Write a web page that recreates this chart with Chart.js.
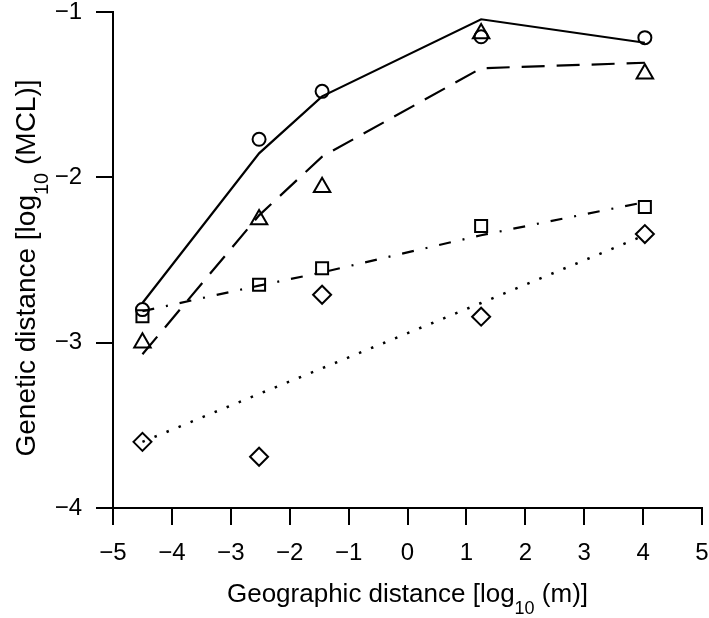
<!DOCTYPE html>
<html>
<head>
<meta charset="utf-8">
<script src="https://cdn.jsdelivr.net/npm/chart.js@4.4.1/dist/chart.umd.min.js"></script>
<style>
  html, body { margin: 0; padding: 0; background: #fff; }
  #wrap { width: 709px; height: 618px; }
</style>
</head>
<body>
<div id="wrap"><canvas id="chart" width="709" height="618"></canvas></div>
<script>
// geographic distance (log10 m) of the five sampling scales
const geoDistance = [-4.5, -2.52, -1.45, 1.25, 4.03];

// observed genetic distances (log10 MCL) and fitted lines, one pair per symbol
const circleObs = [-2.8, -1.77, -1.48, -1.15, -1.155];
const circleFit = [-2.76, -1.855, -1.51, -1.044, -1.186];
const triangleObs = [-3.0, -2.255, -2.06, -1.13, -1.374];
const triangleFit = [-3.07, -2.23, -1.875, -1.34, -1.307];
const squareObs = [-2.84, -2.65, -2.55, -2.295, -2.18];
const squareFit = [-2.81, -2.655, -2.575, -2.35, -2.15];
const diamondObs = [-3.6, -3.69, -2.71, -2.843, -2.343];
const diamondFit = [-3.6, -3.31, -3.155, -2.76, -2.35];

const xTicks = [-5, -4, -3, -2, -1, 0, 1, 2, 3, 4, 5];
const xTickLabels = ['\u22125', '\u22124', '\u22123', '\u22122', '\u22121', '0', '1', '2', '3', '4', '5'];
const yTicks = [-4, -3, -2, -1];
const yTickLabels = ['\u22124', '\u22123', '\u22122', '\u22121'];

const xTitle = ['Geographic distance [log', '10', ' (m)]'];
const yTitle = ['Genetic distance [log', '10', ' (MCL)]'];

const FONT = '"Liberation Sans", Arimo, Arial, Helvetica, sans-serif';

const toPoints = (ys) => geoDistance.map((x, i) => ({ x, y: ys[i] }));

const lineSet = (ys, dash, width) => ({
  data: toPoints(ys),
  showLine: true,
  borderColor: '#000',
  borderWidth: width,
  borderDash: dash,
  pointRadius: 0,
  fill: false,
});

const markerSet = (ys, style, radius) => ({
  data: toPoints(ys),
  showLine: false,
  pointStyle: style,
  pointRadius: radius,
  pointBorderColor: '#000',
  pointBackgroundColor: 'rgba(0,0,0,0)',
  pointBorderWidth: 2,
});

// titles with a lowered "10" subscript
const axisTitles = {
  id: 'axisTitles',
  afterDraw(chart) {
    const { ctx, chartArea } = chart;

    const drawParts = (parts, cx, baseline, size) => {
      const mainFont = `${size}px ${FONT}`;
      const subFont = `${Math.round(size * 0.7)}px ${FONT}`;
      const widths = parts.map((t, i) => {
        ctx.font = i === 1 ? subFont : mainFont;
        return ctx.measureText(t).width;
      });
      let x = cx - widths.reduce((a, b) => a + b, 0) / 2;
      parts.forEach((t, i) => {
        ctx.font = i === 1 ? subFont : mainFont;
        ctx.fillText(t, x, i === 1 ? baseline + size * 0.47 : baseline);
        x += widths[i];
      });
    };

    ctx.save();
    ctx.fillStyle = '#000';
    ctx.textAlign = 'left';
    ctx.textBaseline = 'alphabetic';
    drawParts(xTitle, (chartArea.left + chartArea.right) / 2, 602, 26);

    ctx.translate(35, 268);
    ctx.rotate(-Math.PI / 2);
    drawParts(yTitle, 0, 0, 28);
    ctx.restore();
  },
};

const tickFont = { family: FONT, size: 24 };

new Chart(document.getElementById('chart'), {
  type: 'scatter',
  data: {
    datasets: [
      lineSet(circleFit, [], 2.2),
      lineSet(triangleFit, [23, 12], 2.2),
      lineSet(squareFit, [12, 12, 2, 12], 2.2),
      lineSet(diamondFit, [2.5, 10.5], 2.5),
      markerSet(circleObs, 'circle', 6.5),
      markerSet(triangleObs, 'triangle', 9.5),
      markerSet(squareObs, 'rect', 8.5),
      markerSet(diamondObs, 'rectRot', 9),
    ],
  },
  options: {
    responsive: false,
    animation: false,
    layout: { autoPadding: false, padding: { top: 12, right: 7, left: 0, bottom: 0 } },
    plugins: {
      legend: { display: false },
      tooltip: { enabled: false },
    },
    scales: {
      x: {
        type: 'linear',
        min: -5,
        max: 5,
        afterBuildTicks: (scale) => {
          scale.ticks = xTicks.map((value) => ({ value }));
        },
        afterFit: (scale) => {
          scale.height = 110;
          scale.paddingLeft = 0;
          scale.paddingRight = 0;
        },
        ticks: {
          callback: (value) => xTickLabels[xTicks.indexOf(value)],
          color: '#000',
          font: tickFont,
          padding: 14,
          maxRotation: 0,
          autoSkip: false,
        },
        grid: {
          drawOnChartArea: false,
          drawTicks: true,
          tickLength: 17,
          color: '#000',
          lineWidth: 2,
        },
        border: { display: true, color: '#000', width: 2 },
      },
      y: {
        type: 'linear',
        min: -4,
        max: -1,
        afterBuildTicks: (scale) => {
          scale.ticks = yTicks.map((value) => ({ value }));
        },
        afterFit: (scale) => {
          scale.width = 113;
          scale.paddingTop = 0;
          scale.paddingBottom = 0;
        },
        ticks: {
          callback: (value) => yTickLabels[yTicks.indexOf(value)],
          color: '#000',
          font: tickFont,
          padding: 14,
          autoSkip: false,
        },
        grid: {
          drawOnChartArea: false,
          drawTicks: true,
          tickLength: 17,
          color: '#000',
          lineWidth: 2,
        },
        border: { display: true, color: '#000', width: 2 },
      },
    },
  },
  plugins: [axisTitles],
});
</script>
</body>
</html>
